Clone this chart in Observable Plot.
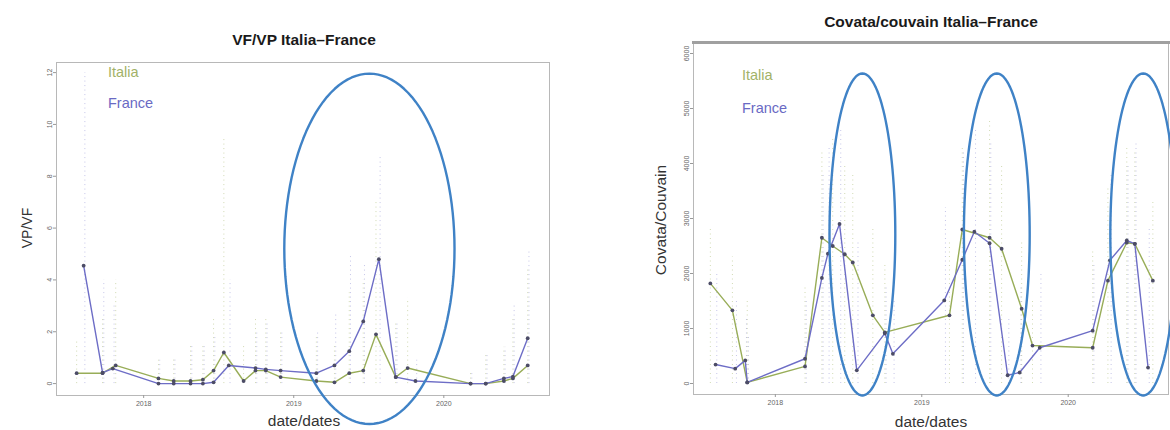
<!DOCTYPE html>
<html><head><meta charset="utf-8">
<script src="https://cdn.jsdelivr.net/npm/d3@7"></script>
<script src="https://cdn.jsdelivr.net/npm/@observablehq/plot@0.6"></script>
<style>
body{margin:0;background:#fff;font-family:"Liberation Sans",Arial,sans-serif;}
#wrap{position:relative;width:1170px;height:430px;overflow:hidden;background:#fff;}
.panel{position:absolute;top:0;}
.lbl{position:absolute;white-space:nowrap;line-height:1;}
.title{font-weight:bold;font-size:15.5px;color:#1a1a1a;transform:translate(-50%,-50%);}
.xlab{font-size:15.5px;color:#333;transform:translate(-50%,-50%);}
.ylab{color:#333;transform:translate(-50%,-50%) rotate(-90deg);}
.leg{font-size:14.5px;}
</style>
</head><body>
<div id="wrap"></div>
<script>
// ---------- Panel 1: VF/VP ----------
const vfItaliaDates = ["2017-07-22","2017-09-23","2017-10-25","2018-02-06","2018-03-15","2018-04-25","2018-05-25","2018-06-20","2018-07-15","2018-09-01","2018-09-30","2018-10-25","2018-11-30","2019-02-25","2019-04-10","2019-05-16","2019-06-19","2019-07-20","2019-09-06","2019-10-05","2020-03-06","2020-04-12","2020-05-26","2020-06-17","2020-07-23"];
const vfItaliaValues = [0.4,0.4,0.7,0.2,0.1,0.1,0.15,0.5,1.2,0.1,0.5,0.5,0.25,0.1,0.05,0.4,0.5,1.9,0.25,0.6,0,0,0.1,0.2,0.7];
const vfItaliaHigh = [1.7,2.5,4,0.9,1.0,1.5,1.5,2.5,9.5,1.5,2.5,2.5,2,1.9,1.5,3.5,4,7,2.4,3.3,0.5,1.1,1.4,2.5,4.5];
const vfFranceDates = ["2017-08-08","2017-09-23","2017-10-18","2018-02-06","2018-03-15","2018-04-25","2018-05-25","2018-06-20","2018-07-27","2018-09-30","2018-10-25","2018-11-30","2019-02-25","2019-04-10","2019-05-16","2019-06-19","2019-07-27","2019-09-06","2019-10-24","2020-03-06","2020-04-12","2020-05-26","2020-06-17","2020-07-23"];
const vfFranceValues = [4.55,0.42,0.58,0,0,0,0,0.05,0.7,0.6,0.55,0.5,0.4,0.7,1.25,2.4,4.8,0.25,0.1,0,0,0.2,0.27,1.75];
const vfFranceHigh = [12,4,3,0.9,1,1.5,1.5,1.8,4,2,2.3,2,2,2.7,5,4.6,8.8,2.4,0.9,0.5,1.1,1.4,3,5.2];
const vfYTicks = [0,2,4,6,8,10,12];
const vfEllipses = [{date:"2019-07-04", value:5.2, halfDays:207, halfValue:6.76}];

// ---------- Panel 2: Covata/couvain ----------
const cvItaliaDates = ["2017-07-23","2017-09-16","2017-10-23","2018-03-16","2018-04-27","2018-05-24","2018-06-23","2018-07-13","2018-09-01","2018-10-01","2019-03-11","2019-04-12","2019-06-19","2019-07-19","2019-09-07","2019-10-04","2020-03-02","2020-04-09","2020-05-26","2020-06-15","2020-07-30"];
const cvItaliaValues = [1820,1330,20,310,2650,2500,2350,2200,1240,930,1240,2800,2650,2450,1360,690,650,1870,2560,2540,1870];
const cvItaliaHigh = [2800,2300,1500,1800,4200,4500,4000,3800,2800,2200,2600,4300,4800,4000,2600,1500,2400,3600,4300,4200,3300];
const cvFranceDates = ["2017-08-05","2017-09-23","2017-10-18","2017-10-23","2018-03-16","2018-04-27","2018-05-12","2018-06-10","2018-07-23","2018-10-01","2018-10-21","2019-02-26","2019-04-12","2019-05-12","2019-06-19","2019-08-03","2019-09-02","2019-10-22","2020-03-02","2020-04-14","2020-05-26","2020-06-15","2020-07-18"];
const cvFranceValues = [345,270,420,20,450,1920,2360,2900,240,910,540,1510,2250,2760,2550,150,200,650,960,2240,2600,2540,290];
const cvFranceHigh = [2000,1500,1200,900,1500,3800,4300,4600,2600,1800,1500,3200,4200,4600,4400,1200,1800,2000,2200,3800,4000,4400,2800];
const cvYTicks = [0,1000,2000,3000,4000,5000,6000];
const cvEllipses = [
  {date:"2018-08-06", value:2710, halfDays:82, halfValue:2927},
  {date:"2019-07-07", value:2710, halfDays:82, halfValue:2927},
  {date:"2020-07-06", value:2710, halfDays:82, halfValue:2927}
];

const xTickDates = ["2018-01-01","2019-01-01","2020-01-01"];
const seriesNames = ["Italia","France"];

const GREEN = "#98ad58", BLUE = "#6d6dc6", ELL = "#3f82c6", DOT = "#4c4c66";
const LEGGREEN = "#a2b268", LEGBLUE = "#6a6ac4";

function rows(dates, values, high){ return dates.map((d,i)=>({date:new Date(d), v:values[i], hi:high[i]})); }
function ellipsePts(e){
  const c = new Date(e.date).getTime(), pts=[];
  for(let k=0;k<=120;k++){ const t=2*Math.PI*k/120;
    pts.push({date:new Date(c + e.halfDays*864e5*Math.cos(t)), v:e.value + e.halfValue*Math.sin(t), id:e.date}); }
  return pts;
}

function panel(o){
  const I = rows(o.iD,o.iV,o.iH), F = rows(o.fD,o.fV,o.fH);
  const ell = o.ell.flatMap(ellipsePts);
  return Plot.plot({
    width:o.width, height:430,
    marginLeft:o.ml, marginRight:o.mr, marginTop:o.mt, marginBottom:o.mb,
    style:{background:"transparent", overflow:"visible", fontFamily:"Liberation Sans, Arial, sans-serif"},
    x:{type:"utc", domain:o.xDomain.map(d=>new Date(d))},
    y:{domain:o.yDomain},
    marks:[
      Plot.frame({stroke:"#b8b8b8"}),
      o.topBar ? Plot.frame({anchor:"top", stroke:"#a0a0a0", strokeWidth:3}) : null,
      Plot.ruleX(I,{x:"date", y1:0, y2:"hi", stroke:GREEN, strokeOpacity:0.45, strokeDasharray:"1,3.5"}),
      Plot.ruleX(F,{x:d=>new Date(d.date.getTime()+3*864e5), y1:0, y2:"hi", stroke:BLUE, strokeOpacity:0.4, strokeDasharray:"1,3.5"}),
      Plot.line(I,{x:"date", y:"v", stroke:GREEN, strokeWidth:1.4}),
      Plot.line(F,{x:"date", y:"v", stroke:BLUE, strokeWidth:1.4}),
      Plot.dot(I,{x:"date", y:"v", r:1.9, fill:DOT}),
      Plot.dot(F,{x:"date", y:"v", r:1.9, fill:DOT}),
      Plot.line(ell,{x:"date", y:"v", z:"id", stroke:ELL, strokeWidth:2.4, clip:false}),
      Plot.axisX({ticks:xTickDates.map(d=>new Date(d)), tickFormat:"%Y", tickSize:3, tickPadding:3, fontSize:7, stroke:"#999", color:"#666"}),
      Plot.axisY({ticks:o.yTicks, tickFormat:d3.format("d"), tickSize:3, tickPadding:2, tickRotate:-90, fontSize:7, stroke:"#999", color:"#666", label:null})
    ]
  });
}

const wrap = document.getElementById("wrap");
function place(el,left){ el.classList.add("panel"); el.style.left=left+"px"; wrap.appendChild(el); }
function label(cls,text,x,y,color,size){ const d=document.createElement("div"); d.className="lbl "+cls; d.textContent=text; d.style.left=x+"px"; d.style.top=y+"px"; if(color) d.style.color=color; if(size) d.style.fontSize=size+"px"; wrap.appendChild(d); }

place(panel({width:580, ml:56, mr:31, mt:62, mb:35,
  xDomain:["2017-06-03","2020-09-14"], yDomain:[-0.46,12.39], yTicks:vfYTicks,
  iD:vfItaliaDates, iV:vfItaliaValues, iH:vfItaliaHigh, fD:vfFranceDates, fV:vfFranceValues, fH:vfFranceHigh, ell:vfEllipses}), 0);

place(panel({width:585, ml:108, mr:2, mt:42, mb:36, topBar:true,
  xDomain:["2017-06-11","2020-09-07"], yDomain:[-200,6200], yTicks:cvYTicks,
  iD:cvItaliaDates, iV:cvItaliaValues, iH:cvItaliaHigh, fD:cvFranceDates, fV:cvFranceValues, fH:cvFranceHigh, ell:cvEllipses}), 585);

label("title","VF/VP Italia–France",304,40);
label("title","Covata/couvain Italia–France",931,22);
label("xlab","date/dates",304,421);
label("xlab","date/dates",931,422);
label("ylab","VP/VF",27,228,null,14);
label("ylab","Covata/Couvain",661,220,null,15.5);
label("leg",seriesNames[0],108,65,LEGGREEN);
label("leg",seriesNames[1],108,96,LEGBLUE);
label("leg",seriesNames[0],742,68,LEGGREEN);
label("leg",seriesNames[1],742,101,LEGBLUE);
</script>
</body></html>
